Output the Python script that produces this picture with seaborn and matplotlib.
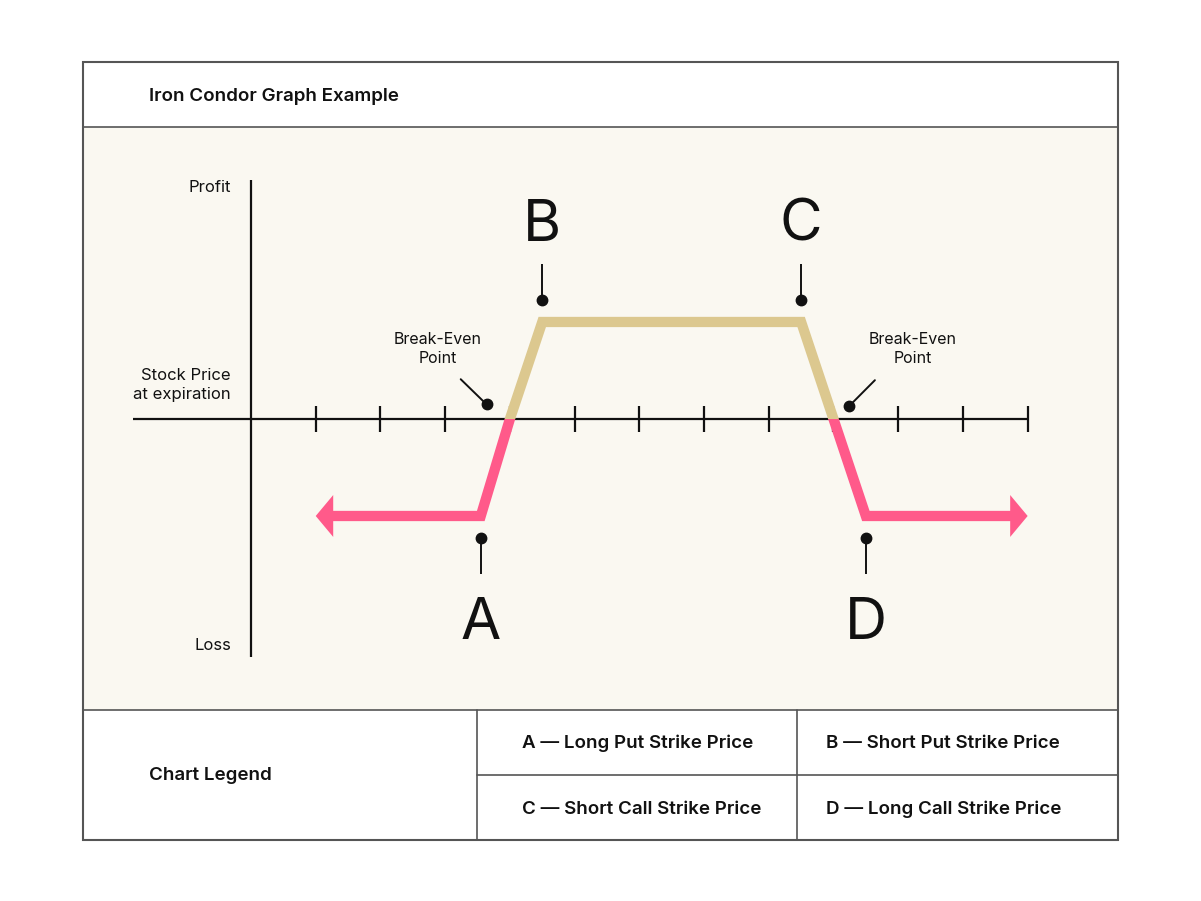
import numpy as np
import pandas as pd
import matplotlib
matplotlib.use("Agg")
import matplotlib.pyplot as plt
import seaborn as sns
from matplotlib.patches import Polygon, Rectangle
from matplotlib.lines import Line2D

# ---------------- data ----------------
title = "Iron Condor Graph Example"
legend_title = "Chart Legend"
strike_labels = ["A", "B", "C", "D"]
strike_prices = [3.55, 4.5, 8.5, 9.5]
strike_names = ["Long Put Strike Price", "Short Put Strike Price",
                "Short Call Strike Price", "Long Call Strike Price"]
break_even = [4.0, 9.0]
payoff_x = [1.0, 3.55, 4.0, 4.5, 8.5, 9.0, 9.5, 12.0]
payoff_y = [-1.0, -1.0, 0.0, 1.0, 1.0, 0.0, -1.0, -1.0]
price_ticks = list(range(1, 13))
axis_labels = ["Profit", "Stock Price\nat expiration", "Loss"]
break_even_label = "Break-Even\nPoint"

# ---------------- style ----------------
sns.set_theme(style="white")
plt.rcParams['font.family'] = ['Inter', 'DejaVu Sans']

W, H = 1201, 901
fig = plt.figure(figsize=(W / 100, H / 100), dpi=100)
fig.patch.set_facecolor('white')


def fx(px):
    return px / W


def fy(py):
    return 1 - py / H


BEIGE = '#FAF8F1'
PINK = '#FF5A8A'
TAN = '#DCC88F'
INK = '#111111'
FRAME = '#555555'

ax = fig.add_axes([fx(83), fy(710), fx(1118) - fx(83), (710 - 127) / H])
ax.set_facecolor(BEIGE)
ax.set_xlim(-2.596, 13.396)
ax.set_ylim(-3.0, 3.01)
ax.set_xticks([])
ax.set_yticks([])
for s in ax.spines.values():
    s.set_visible(False)

# axes of the diagram
ax.plot([-1.82, price_ticks[-1]], [0, 0], color=INK, lw=1.6, zorder=2,
        solid_capstyle='butt')
ax.plot([0, 0], [-2.45, 2.46], color=INK, lw=1.6, zorder=2,
        solid_capstyle='butt')
ax.vlines(price_ticks, -0.134, 0.134, color=INK, lw=1.6, zorder=2)

# payoff line
head_len, head_half = 0.27, 0.216
df = pd.DataFrame({'price': payoff_x, 'pnl': payoff_y})
df_line = df.copy()
df_line.loc[0, 'price'] += head_len * 0.8
df_line.loc[len(df) - 1, 'price'] -= head_len * 0.8
for color, (y0, y1) in [(PINK, (-10, 0)), (TAN, (0, 10))]:
    sns.lineplot(data=df_line, x='price', y='pnl', sort=False, estimator=None,
                 color=color, lw=7.4, ax=ax, solid_joinstyle='miter',
                 solid_capstyle='butt', zorder=3)
    line = ax.lines[-1]
    rect = Rectangle((-10, y0), 40, y1 - y0, transform=ax.transData)
    line.set_clip_path(rect)

for tip_x, tip_y, d in [(payoff_x[0], payoff_y[0], 1), (payoff_x[-1], payoff_y[-1], -1)]:
    ax.add_patch(Polygon([(tip_x, tip_y),
                          (tip_x + d * head_len, tip_y + head_half),
                          (tip_x + d * head_len, tip_y - head_half)],
                         closed=True, facecolor=PINK, lw=0, zorder=3))

ax.set_xlabel('')
ax.set_ylabel('')

# strike callouts
for lab, sx in zip(strike_labels, strike_prices):
    level = np.interp(sx, payoff_x, payoff_y)
    sg = 1 if level > 0 else -1
    ax.plot([sx, sx], [level + sg * 0.28, level + sg * 0.60], color=INK, lw=1.4,
            zorder=4, solid_capstyle='butt')
    ax.plot([sx], [level + sg * 0.23], 'o', color=INK, ms=7.5, zorder=4)
    base = level + (0.835 if sg > 0 else -1.268)
    ax.text(sx, base, lab, ha='center', va='baseline',
            fontsize=42, color=INK)

# break-even callouts
be_dot = [(-0.36, 0.15), (0.245, 0.135)]
be_end = [(-0.76, 0.41), (0.64, 0.40)]
be_txt = [(-1.12, 0.72), (1.23, 0.72)]
for bx, (ddx, ddy), (ex, ey), (tx, ty) in zip(break_even, be_dot, be_end, be_txt):
    ax.plot([bx + ddx, bx + ex], [ddy, ey], color=INK, lw=1.4, zorder=4)
    ax.plot([bx + ddx], [ddy], 'o', color=INK, ms=7.5, zorder=4)
    ax.text(bx + tx, ty, break_even_label, ha='center', va='center',
            fontsize=11.5, color=INK, linespacing=1.3)

# axis labels
ax.text(-0.31, 2.39, axis_labels[0], ha='right', va='center', fontsize=12, color=INK)
ax.text(-0.31, 0.35, axis_labels[1], ha='right', va='center', fontsize=12,
        color=INK, linespacing=1.35)
ax.text(-0.31, -2.33, axis_labels[2], ha='right', va='center', fontsize=12, color=INK)

# ---------------- frame / table ----------------
fig.add_artist(Rectangle((fx(83), fy(840)), fx(1118) - fx(83), (840 - 62) / H,
                         transform=fig.transFigure, fill=False, ec=FRAME, lw=1.5,
                         zorder=5))
for (x0, y0, x1, y1) in [(83, 127, 1118, 127), (83, 710, 1118, 710),
                         (477, 775, 1118, 775), (477, 710, 477, 840),
                         (797, 710, 797, 840)]:
    fig.add_artist(Line2D([fx(x0), fx(x1)], [fy(y0), fy(y1)],
                          transform=fig.transFigure, color=FRAME, lw=1.2, zorder=5))

fig.text(fx(149), fy(101), title, ha='left', va='baseline', fontsize=13.5,
         fontweight='semibold', color=INK)
fig.text(fx(149), fy(775), legend_title, ha='left', va='center', fontsize=13.5,
         fontweight='semibold', color=INK)
col_x = [522, 826, 522, 826]
row_y = [743, 743, 809, 809]
for lab, name, cx, ry in zip(strike_labels, strike_names, col_x, row_y):
    fig.text(fx(cx), fy(ry), f"{lab} \u2014 {name}", ha='left', va='center',
             fontsize=13.5, fontweight='semibold', color=INK)

fig.savefig('out.png', dpi=100, facecolor='white')
